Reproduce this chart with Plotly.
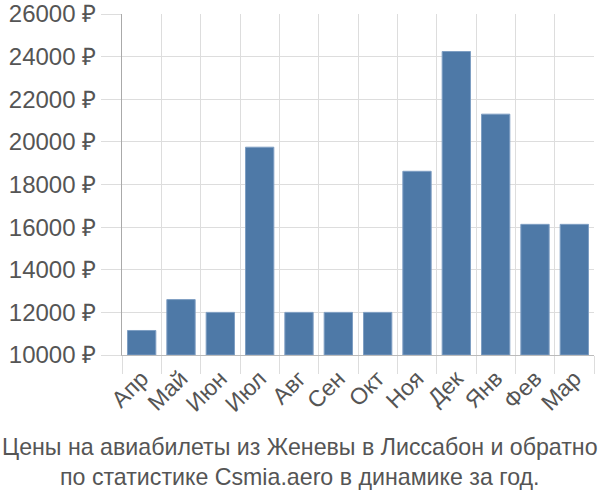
import plotly.graph_objects as go

months = ["Апр", "Май", "Июн", "Июл", "Авг", "Сен", "Окт", "Ноя", "Дек", "Янв", "Фев", "Мар"]
prices = [11150, 12600, 12000, 19750, 12000, 12000, 12000, 18620, 24240, 21300, 16130, 16130]
y_ticks = [10000, 12000, 14000, 16000, 18000, 20000, 22000, 24000, 26000]
y_tick_text = [f"{v} ₽" for v in y_ticks]
title_lines = ["Цены на авиабилеты из Женевы в Лиссабон и обратно",
               "по статистике Csmia.aero в динамике за год."]

fig = go.Figure(go.Bar(
    x=months, y=[p - 10000 for p in prices], base=10000,
    marker=dict(color="#4e79a7", line=dict(color="#7f9fc3", width=1)),
    width=0.72,
))

fig.update_layout(
    width=600, height=500,
    margin=dict(l=122, r=6, t=14, b=145, autoexpand=False),
    plot_bgcolor="white", paper_bgcolor="white",
    font=dict(family="Liberation Sans, Arial, sans-serif", size=23, color="#555555"),
    showlegend=False,
)
fig.update_xaxes(
    type="category", tickson="boundaries", tickangle=-45, range=[-0.5, 11.5],
    automargin=False, ticklabeloverflow="allow",
    showgrid=True, gridcolor="#dddddd", gridwidth=1,
    ticks="outside", ticklen=18, tickcolor="#dddddd",
    showline=True, linecolor="#bbbbbb", linewidth=1,
    tickfont=dict(size=23, color="#555555"),
)
fig.update_yaxes(
    range=[10000, 26000], tickvals=y_ticks, ticktext=y_tick_text,
    automargin=False, ticklabeloverflow="allow",
    showgrid=True, gridcolor="#dddddd", gridwidth=1,
    ticks="outside", ticklen=20, tickcolor="#dddddd",
    showline=True, linecolor="#aaaaaa", linewidth=1,
    tickfont=dict(size=24, color="#555555"), zeroline=False,
)
fig.add_annotation(
    text="<br>".join(title_lines), xref="paper", yref="paper",
    x=0.377, y=-0.226, xanchor="center", yanchor="top", showarrow=False,
    font=dict(size=23.2, color="#555555"), align="center",
)
fig.write_html("out.html",
               config={"displayModeBar": False},
               post_script="document.body.style.margin='0';document.body.style.padding='0';")
